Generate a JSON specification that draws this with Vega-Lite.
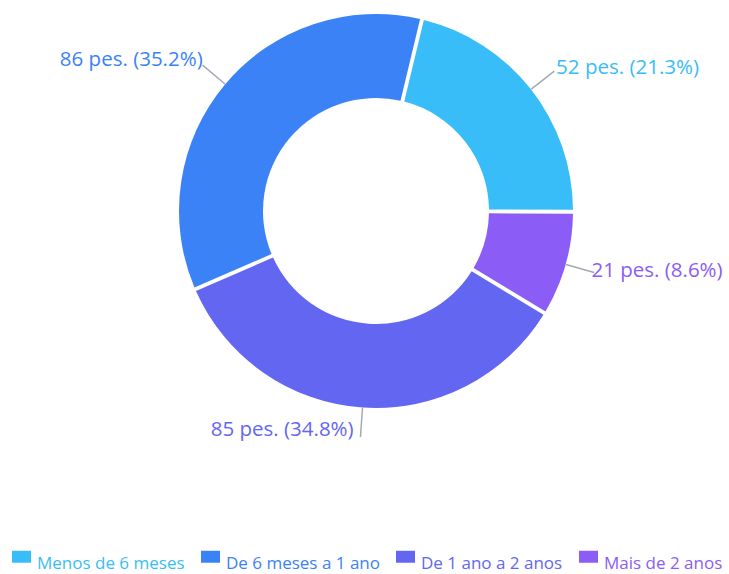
{
  "$schema": "https://vega.github.io/schema/vega-lite/v6.json",
  "width": 706,
  "height": 422,
  "padding": {"left": 23, "top": 0, "right": 0, "bottom": 152},
  "autosize": {"type": "none"},
  "background": "white",
  "config": {"view": {"stroke": null}, "font": "Open Sans"},
  "data": {
    "values": [
      {"cat": "Menos de 6 meses", "n": 52, "ord": 1, "label": "52 pes. (21.3%)"},
      {"cat": "Mais de 2 anos", "n": 21, "ord": 2, "label": "21 pes. (8.6%)"},
      {"cat": "De 1 ano a 2 anos", "n": 85, "ord": 3, "label": "85 pes. (34.8%)"},
      {"cat": "De 6 meses a 1 ano", "n": 86, "ord": 4, "label": "86 pes. (35.2%)"}
    ]
  },
  "transform": [
    {"stack": "n", "groupby": [], "sort": [{"field": "ord", "order": "ascending"}], "as": ["s0", "s1"]},
    {"calculate": "(datum.s0 + datum.s1) / 2", "as": "mid"},
    {"calculate": "datum.mid + 0.03", "as": "mid2"}
  ],
  "layer": [
    {
      "mark": {"type": "arc", "radius": 197, "radius2": 113, "padAngle": 0.017},
      "encoding": {
        "theta": {"field": "s0", "type": "quantitative", "scale": {"domain": [0, 244], "range": [0.2356, 6.5188]}},
        "theta2": {"field": "s1"},
        "color": {
          "field": "cat",
          "type": "nominal",
          "scale": {
            "domain": ["Menos de 6 meses", "De 6 meses a 1 ano", "De 1 ano a 2 anos", "Mais de 2 anos"],
            "range": ["#38BDF8", "#3B82F6", "#6366F1", "#8B5CF6"]
          },
          "legend": {
            "orient": "none",
            "legendX": -11,
            "legendY": 547,
            "direction": "horizontal",
            "columns": 4,
            "title": null,
            "symbolType": "M-1,-0.63H1V0.63H-1Z",
            "symbolSize": 361,
            "symbolStrokeWidth": 0,
            "labelFontSize": 17,
            "labelFont": "Open Sans",
            "columnPadding": 16,
            "labelOffset": 6,
            "encode": {"labels": {"update": {"fill": {"scale": "color", "field": "value"}, "dy": {"value": 7}}}}
          }
        }
      }
    },
    {
      "mark": {"type": "arc", "radius": 198, "radius2": 226, "stroke": "#a3a9b3", "strokeWidth": 1.3, "fillOpacity": 0},
      "encoding": {
        "theta": {"field": "mid", "type": "quantitative"},
        "theta2": {"field": "mid2"}
      }
    },
    {
      "transform": [{"filter": "datum.ord == 1"}],
      "mark": {"type": "text", "radius": 229, "align": "left", "baseline": "middle", "fontSize": 20.5, "font": "Open Sans", "dy": -2},
      "encoding": {
        "theta": {"field": "mid", "type": "quantitative", "stack": null},
        "text": {"field": "label"},
        "color": {"field": "cat", "type": "nominal"}
      }
    },
    {
      "transform": [{"filter": "datum.ord == 2"}],
      "mark": {"type": "text", "radius": 229, "align": "left", "baseline": "middle", "fontSize": 20.5, "font": "Open Sans", "dx": -5, "dy": -2},
      "encoding": {
        "theta": {"field": "mid", "type": "quantitative", "stack": null},
        "text": {"field": "label"},
        "color": {"field": "cat", "type": "nominal"}
      }
    },
    {
      "transform": [{"filter": "datum.ord == 4"}],
      "mark": {"type": "text", "radius": 229, "align": "right", "baseline": "middle", "fontSize": 20.5, "font": "Open Sans", "dy": -4, "dx": 2},
      "encoding": {
        "theta": {"field": "mid", "type": "quantitative", "stack": null},
        "text": {"field": "label"},
        "color": {"field": "cat", "type": "nominal"}
      }
    },
    {
      "transform": [{"filter": "datum.ord == 3"}],
      "mark": {"type": "text", "radius": 226, "align": "right", "baseline": "middle", "fontSize": 20.5, "font": "Open Sans", "dx": -7, "dy": -6},
      "encoding": {
        "theta": {"field": "mid", "type": "quantitative", "stack": null},
        "text": {"field": "label"},
        "color": {"field": "cat", "type": "nominal"}
      }
    }
  ]
}
